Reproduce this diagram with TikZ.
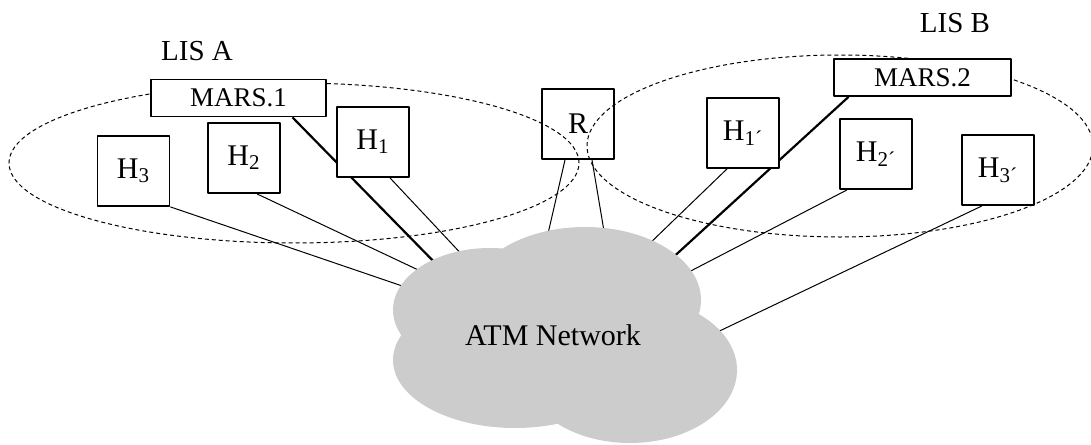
\documentclass[tikz,border=0pt]{standalone}
\usepackage{fontspec}
\setmainfont{Liberation Serif}
\usetikzlibrary{backgrounds}
\definecolor{cloudgray}{gray}{0.8}
\begin{document}
\begin{tikzpicture}[x=0.5pt,y=-0.5pt,line join=round,
  host/.style={draw,fill=white,line width=0.9pt,minimum width=36pt,minimum height=35pt,inner sep=0pt,font=\fontsize{15}{18}\selectfont},
  router/.style={host,fill=none},
  mars/.style={draw,fill=white,line width=0.9pt,minimum height=18.5pt,inner sep=0pt,font=\fontsize{13.5}{16}\selectfont},
  lis/.style={dash pattern=on 2pt off 1.5pt,line width=0.5pt},
  link/.style={line width=0.5pt},
  trunk/.style={line width=1.1pt}]
\useasboundingbox (0,0) rectangle (1091,444);
% ATM cloud
\fill[cloudgray] (490,310) ellipse [x radius=48.5pt,y radius=31pt]
  (585,300) ellipse [x radius=58pt,y radius=36.5pt]
  (630,370) ellipse [x radius=53.5pt,y radius=36.5pt]
  (515,360) ellipse [x radius=61pt,y radius=34pt];
\node[font=\fontsize{15}{18}\selectfont] (atm) at (553,335) {ATM Network};
% LIS A
\node[font=\fontsize{14.5}{17}\selectfont] (lisa) at (197,51) {LIS A};
\node[mars,minimum width=87.5pt] (mars1) at (238.5,98) {MARS.1};
\node[host] (h3) at (133.5,171) {H\textsubscript{3}};
\node[host] (h2) at (244,158) {H\textsubscript{2}};
\node[host] (h1) at (373,142) {H\textsubscript{1}};
% router
\node[router] (r) at (578,124) {R};
% LIS B
\node[font=\fontsize{14.5}{17}\selectfont] (lisb) at (955,23) {LIS B};
\node[mars,minimum width=88.5pt] (mars2) at (922.5,77.5) {MARS.2};
\node[host] (h1b) at (743,133) {H\textsubscript{1´}};
\node[host] (h2b) at (876,154) {H\textsubscript{2´}};
\node[host] (h3b) at (998,170) {H\textsubscript{3´}};
% ends inside the cloud
\coordinate (c3) at (414,290);
\coordinate (c2) at (431,276);
\coordinate (cm1) at (442,270);
\coordinate (c1) at (467,260);
\coordinate (crl) at (547,238);
\coordinate (crr) at (605,237);
\coordinate (c1b) at (646,247);
\coordinate (cm2) at (668,262);
\coordinate (c2b) at (683,275);
\coordinate (c3b) at (709,336);
\begin{pgfonlayer}{background}
\draw[lis] (294,163) ellipse [x radius=142.5pt,y radius=40pt];
\draw[lis] (840,146) ellipse [x radius=126.5pt,y radius=45.5pt];
\draw[link] (h3.south east)--(c3);
\draw[link] ([xshift=6.5pt]h2.south)--(c2);
\draw[trunk] ([xshift=27pt]mars1.south)--(cm1);
\draw[link] ([xshift=8.5pt]h1.south)--(c1);
\draw[link] ([xshift=-6.5pt]r.south)--(crl);
\draw[link] ([xshift=7pt]r.south)--(crr);
\draw[link] ([xshift=-8pt]h1b.south)--(c1b);
\draw[trunk] ([xshift=-37pt]mars2.south)--(cm2);
\draw[link] ([xshift=-14.5pt]h2b.south)--(c2b);
\draw[link] ([xshift=-8pt]h3b.south)--(c3b);
\end{pgfonlayer}
\end{tikzpicture}
\end{document}
